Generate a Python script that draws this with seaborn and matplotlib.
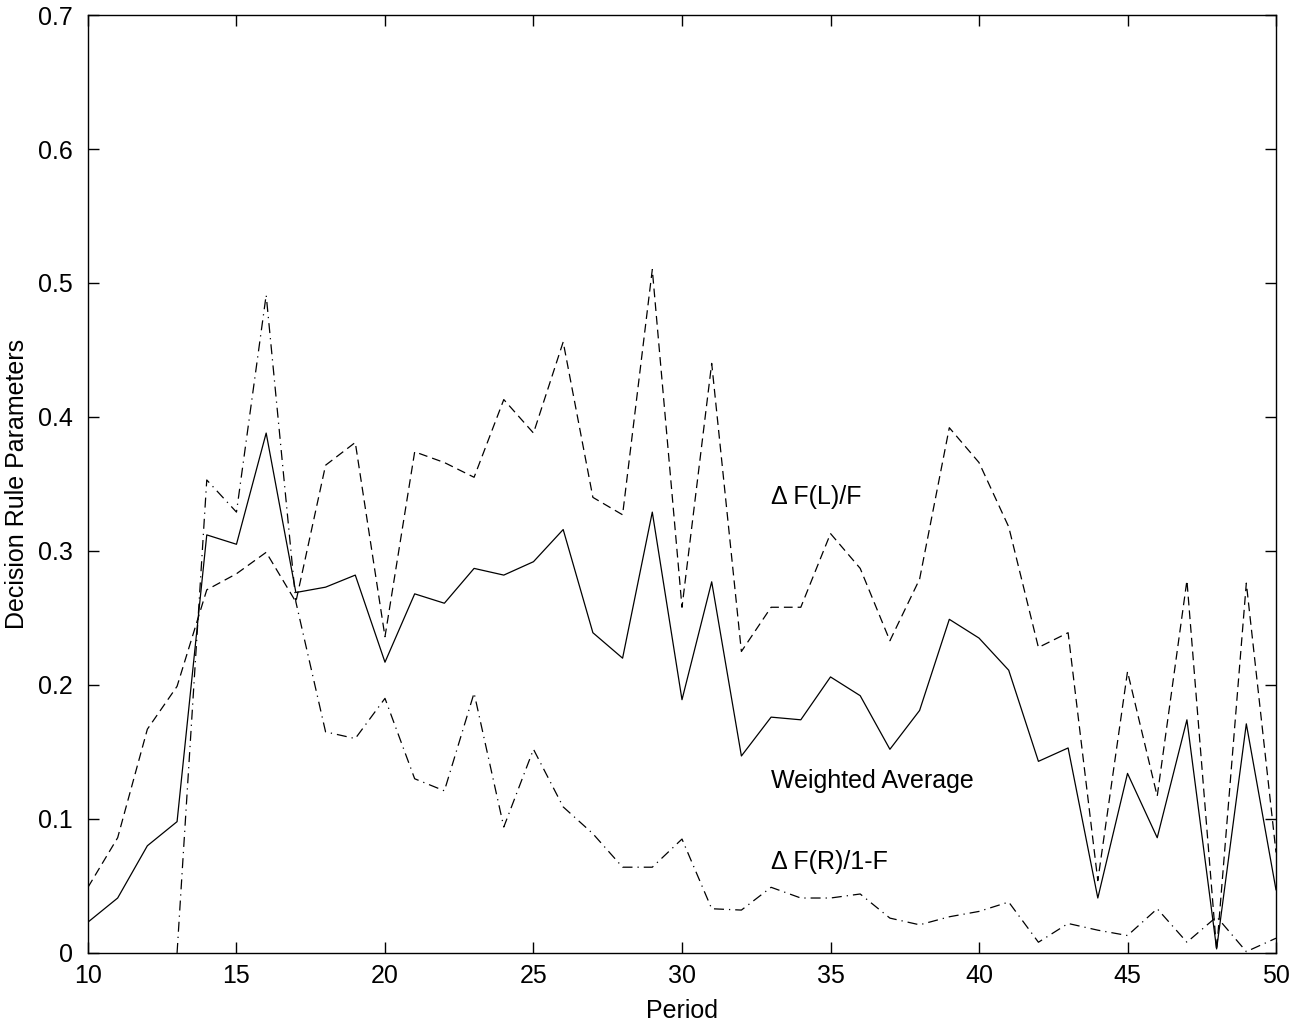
import numpy as np
import pandas as pd
import matplotlib
matplotlib.use('Agg')
import matplotlib.pyplot as plt
import seaborn as sns

# Данные
period = list(range(10, 51))

f_left = [0.049, 0.086, 0.167, 0.199, 0.271, 0.283, 0.299, 0.262, 0.364, 0.381,
          0.236, 0.374, 0.366, 0.355, 0.413, 0.388, 0.456, 0.340, 0.327, 0.510,
          0.258, 0.440, 0.225, 0.258, 0.258, 0.313, 0.287, 0.233, 0.279, 0.392,
          0.366, 0.318, 0.228, 0.239, 0.054, 0.210, 0.117, 0.278, 0.002, 0.276,
          0.075]

weighted = [0.023, 0.041, 0.080, 0.098, 0.312, 0.305, 0.388, 0.269, 0.273, 0.282,
            0.217, 0.268, 0.261, 0.287, 0.282, 0.292, 0.316, 0.239, 0.220, 0.329,
            0.189, 0.277, 0.147, 0.176, 0.174, 0.206, 0.192, 0.152, 0.181, 0.249,
            0.235, 0.211, 0.143, 0.153, 0.041, 0.134, 0.086, 0.174, 0.003, 0.171,
            0.047]

f_right = [np.nan, np.nan, np.nan, 0.0, 0.353, 0.329, 0.491, 0.262, 0.165, 0.160,
           0.190, 0.130, 0.121, 0.194, 0.094, 0.152, 0.109, 0.089, 0.064, 0.064,
           0.085, 0.033, 0.032, 0.049, 0.041, 0.041, 0.044, 0.026, 0.021, 0.027,
           0.031, 0.038, 0.008, 0.022, 0.017, 0.013, 0.033, 0.008, 0.027, 0.001,
           0.011]

labels = ['\u0394 F(L)/F', 'Weighted Average', '\u0394 F(R)/1-F']
label_pos = [(33.0, 0.340), (33.0, 0.128), (33.0, 0.068)]

df = pd.DataFrame({'Period': period, 'FL': f_left, 'WA': weighted, 'FR': f_right})

sns.set_style('ticks')
plt.rcParams['font.family'] = ['Liberation Sans', 'DejaVu Sans']
plt.rcParams.update({'text.color': 'black', 'axes.labelcolor': 'black',
                     'xtick.color': 'black', 'ytick.color': 'black',
                     'axes.edgecolor': 'black'})

fig = plt.figure(figsize=(13.07, 10.28), dpi=100)
ax = fig.add_axes([0.0673, 0.073, 0.909, 0.9124])

sns.lineplot(data=df, x='Period', y='FL', ax=ax, color='black', lw=0.9,
             linestyle=(0, (7, 4)), errorbar=None)
sns.lineplot(data=df, x='Period', y='WA', ax=ax, color='black', lw=0.9,
             errorbar=None)
sns.lineplot(data=df.dropna(), x='Period', y='FR', ax=ax, color='black', lw=0.9,
             linestyle=(0, (8, 4, 1, 4)), errorbar=None)

for txt, (x, y) in zip(labels, label_pos):
    ax.text(x, y, txt, fontsize=18, ha='left', va='center', color='black')

ax.set_xlim(10, 50)
ax.set_ylim(0, 0.7)
ax.set_xticks(range(10, 51, 5))
ax.set_yticks(np.arange(0, 0.71, 0.1))
ax.set_yticklabels(['0', '0.1', '0.2', '0.3', '0.4', '0.5', '0.6', '0.7'])
ax.tick_params(direction='in', top=True, right=True, length=8, width=1,
               labelsize=18, color='black', labelcolor='black')
ax.tick_params(axis='x', pad=8)
ax.tick_params(axis='y', pad=11)
for s in ax.spines.values():
    s.set_linewidth(1)
    s.set_color('black')
ax.set_xlabel('Period', fontsize=18, labelpad=8)
ax.set_ylabel('Decision Rule Parameters', fontsize=18, labelpad=6)

fig.savefig('out.png', dpi=100)
